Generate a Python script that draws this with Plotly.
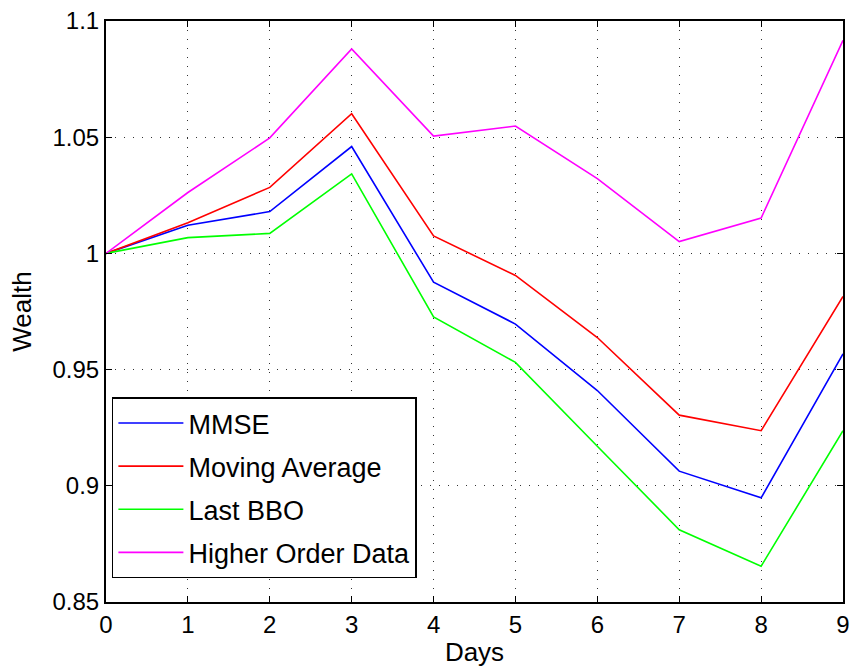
import plotly.graph_objects as go

days = [0, 1, 2, 3, 4, 5, 6, 7, 8, 9]
mmse = [1.0, 1.0121, 1.0180, 1.0460, 0.9876, 0.9696, 0.9410, 0.9063, 0.8948, 0.9568]
moving_avg = [1.0, 1.0132, 1.0284, 1.0601, 1.0075, 0.9905, 0.9638, 0.9304, 0.9237, 0.9815]
last_bbo = [1.0, 1.0068, 1.0086, 1.0342, 0.9727, 0.9531, 0.9170, 0.8811, 0.8654, 0.9237]
higher_order = [1.0, 1.0262, 1.0497, 1.0880, 1.0505, 1.0548, 1.0322, 1.0051, 1.0152, 1.0917]

series_names = ["MMSE", "Moving Average", "Last BBO", "Higher Order Data"]
series_values = [mmse, moving_avg, last_bbo, higher_order]
series_colors = ["#0000FF", "#FF0000", "#00FF00", "#FF00FF"]

y_tickvals = [0.85, 0.9, 0.95, 1.0, 1.05, 1.1]
y_ticktext = ["0.85", "0.9", "0.95", "1", "1.05", "1.1"]

fig = go.Figure()
for i, (name, vals, col) in enumerate(zip(series_names, series_values, series_colors)):
    fig.add_trace(go.Scatter(
        x=days, y=vals, mode="lines", name=name,
        line=dict(color=col, width=1.6),
        legendgroup=f"g{i}",
    ))

font_family = "Liberation Sans, Arial, sans-serif"
grid_dash = "1px,8px"

fig.update_layout(
    width=857, height=670,
    margin=dict(l=106, r=7, t=14, b=68),
    plot_bgcolor="white", paper_bgcolor="white",
    font=dict(family=font_family, size=24, color="black"),
    showlegend=True,
    legend=dict(
        x=0.008, y=0.352, xanchor="left", yanchor="top",
        bgcolor="white", bordercolor="black", borderwidth=1.5,
        font=dict(size=27, family=font_family, color="black"),
        traceorder="grouped", tracegroupgap=5,
        itemwidth=65,
    ),
    xaxis=dict(
        range=[0, 9], tickvals=days, ticktext=[str(d) for d in days],
        showline=True, linecolor="black", linewidth=2, mirror="ticks",
        ticks="inside", ticklen=6, tickcolor="black", tickwidth=1,
        showgrid=True, gridcolor="#333333", griddash=grid_dash, gridwidth=1,
        zeroline=False,
        tickfont=dict(size=24),
        title=dict(text="Days", font=dict(size=26), standoff=6),
    ),
    yaxis=dict(
        range=[0.85, 1.1], tickvals=y_tickvals, ticktext=y_ticktext,
        showline=True, linecolor="black", linewidth=2, mirror="ticks",
        ticks="inside", ticklen=6, tickcolor="black", tickwidth=1,
        showgrid=True, gridcolor="#333333", griddash=grid_dash, gridwidth=1,
        zeroline=False,
        tickfont=dict(size=24),
        title=dict(text="Wealth", font=dict(size=26), standoff=13),
    ),
)

fig.write_html("out.html")
